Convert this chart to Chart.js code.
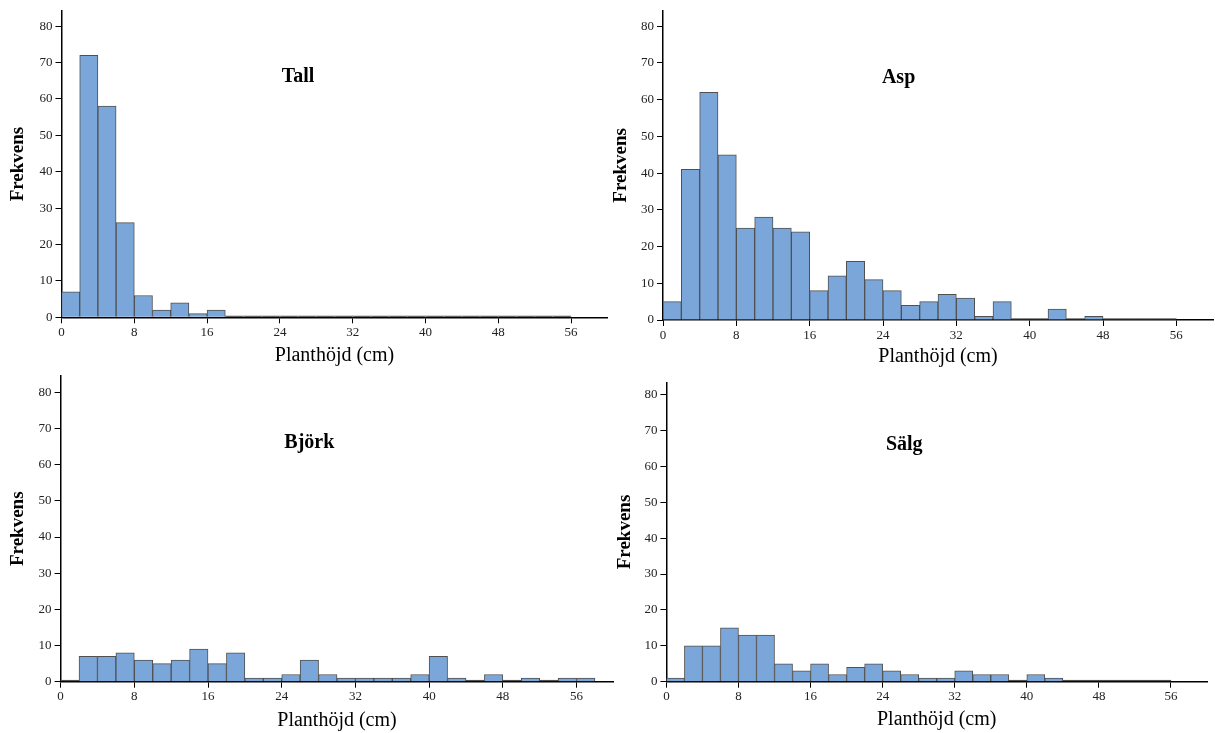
<!DOCTYPE html>
<html><head><meta charset="utf-8">
<script src="https://cdn.jsdelivr.net/npm/chart.js@4/dist/chart.umd.min.js"></script>
<style>
html,body{margin:0;padding:0;background:#fff;width:1215px;height:733px;overflow:hidden;position:relative;}
canvas{position:absolute;}
</style></head><body>
<canvas id="c0"></canvas>
<canvas id="c1"></canvas>
<canvas id="c2"></canvas>
<canvas id="c3"></canvas>
<script>
// ---- data ----
const binCenters = [1,3,5,7,9,11,13,15,17,19,21,23,25,27,29,31,33,35,37,39,41,43,45,47,49,51,53,55,57];
const xTickValues = [0,8,16,24,32,40,48,56];
const yTickValues = [0,10,20,30,40,50,60,70,80];
const tallCounts  = [7,72,58,26,6,2,4,1,2,0,0,0,0,0,0,0,0,0,0,0,0,0,0,0,0,0,0,0];
const aspCounts   = [5,41,62,45,25,28,25,24,8,12,16,11,8,4,5,7,6,1,5,0,0,3,0,1,0,0,0,0];
const bjorkCounts = [0,7,7,8,6,5,6,9,5,8,1,1,2,6,2,1,1,1,1,2,7,1,0,2,0,1,0,1,1];
const salgCounts  = [1,10,10,15,13,13,5,3,5,2,4,5,3,2,1,1,3,2,2,0,2,1,0,0,0,0,0,0];
const panelTitles = ['Tall','Asp','Björk','Sälg'];
const xAxisTitle = 'Planthöjd (cm)';
const yAxisTitle = 'Frekvens';

const SERIF = '"Liberation Serif", "Times New Roman", serif';
const BAR_FILL = '#7ba6d9';
const BAR_EDGE = '#505050';

const panelTitlePlugin = {
  id: 'panelTitle',
  afterDatasetsDraw(chart, args, opts) {
    const {ctx} = chart;
    const x = chart.scales.x, y = chart.scales.y;
    ctx.save();
    ctx.font = 'bold 20px ' + SERIF;
    ctx.fillStyle = '#000';
    ctx.textAlign = 'center';
    ctx.textBaseline = 'middle';
    ctx.fillText(opts.text, x.getPixelForValue(opts.x), y.getPixelForValue(opts.y));
    ctx.restore();
  }
};

const panels = [
  {id:'c0', counts:tallCounts,  title:panelTitles[0], left:0,   top:0,   w:610, h:370, yW:61.5, padTop:9.3,  padRight:2.5, xH:52.7, yMax:84.2, tx:26.0, ty:66, ytPad:6.2, xtPad:2},
  {id:'c1', counts:aspCounts,   title:panelTitles[1], left:605, top:0,   w:610, h:371, yW:58,   padTop:8.3,  padRight:2,   xH:51,   yMax:84.2, tx:25.7, ty:66, ytPad:4.2, xtPad:2},
  {id:'c2', counts:bjorkCounts, title:panelTitles[2], left:0,   top:365, w:615, h:368, yW:60.6, padTop:5,    padRight:1.6, xH:51.3, yMax:84.6, tx:27.0, ty:66, ytPad:6.2, xtPad:0},
  {id:'c3', counts:salgCounts,  title:panelTitles[3], left:605, top:365, w:610, h:368, yW:61.4, padTop:17.3, padRight:8,   xH:51.3, yMax:83.4, tx:26.4, ty:66, ytPad:8.2, xtPad:1}
];

panels.forEach(p => {
  const cv = document.getElementById(p.id);
  cv.width = p.w; cv.height = p.h;
  cv.style.left = p.left + 'px'; cv.style.top = p.top + 'px';
  cv.style.width = p.w + 'px'; cv.style.height = p.h + 'px';
  const pts = p.counts.map((v, i) => ({x: binCenters[i], y: v}));
  new Chart(cv, {
    type: 'bar',
    data: { datasets: [{
      data: pts,
      backgroundColor: c => (c.raw && c.raw.y === 0) ? BAR_EDGE : BAR_FILL,
      borderColor: BAR_EDGE,
      borderWidth: 1,
      minBarLength: 1.5,
      barPercentage: 1,
      categoryPercentage: 1
    }]},
    options: {
      responsive: false,
      animation: false,
      devicePixelRatio: 1,
      layout: { padding: { left: 0, top: p.padTop, right: p.padRight, bottom: 0 } },
      plugins: {
        legend: { display: false },
        tooltip: { enabled: false },
        panelTitle: { text: p.title, x: p.tx, y: p.ty }
      },
      scales: {
        x: {
          type: 'linear', min: 0, max: 60, offset: false,
          afterBuildTicks: s => { s.ticks = xTickValues.map(v => ({value: v})); },
          afterFit: s => { s.height = p.xH; },
          ticks: { font: { family: SERIF, size: 13 }, color: '#222', padding: 1.5, maxRotation: 0, autoSkip: false },
          grid: { display: true, offset: false, drawOnChartArea: false, drawTicks: true, tickLength: 6, color: '#000', lineWidth: 1 },
          border: { display: true, color: '#000', width: 1.5 },
          title: { display: true, text: xAxisTitle, font: { family: SERIF, size: 20, lineHeight: 1.2 }, color: '#000', padding: { top: 0, bottom: p.xtPad } }
        },
        y: {
          type: 'linear', min: 0, max: p.yMax,
          afterBuildTicks: s => { s.ticks = yTickValues.map(v => ({value: v})); },
          afterFit: s => { s.width = p.yW; },
          ticks: { font: { family: SERIF, size: 13 }, color: '#222', padding: 3, autoSkip: false },
          grid: { display: true, drawOnChartArea: false, drawTicks: true, tickLength: 6, color: '#000', lineWidth: 1 },
          border: { display: true, color: '#000', width: 1.5 },
          title: { display: true, text: yAxisTitle, font: { family: SERIF, size: 19, weight: 'bold', lineHeight: 1.2 }, color: '#000', padding: { top: p.ytPad, bottom: 0 } }
        }
      }
    },
    plugins: [panelTitlePlugin]
  });
});
</script>
</body></html>
